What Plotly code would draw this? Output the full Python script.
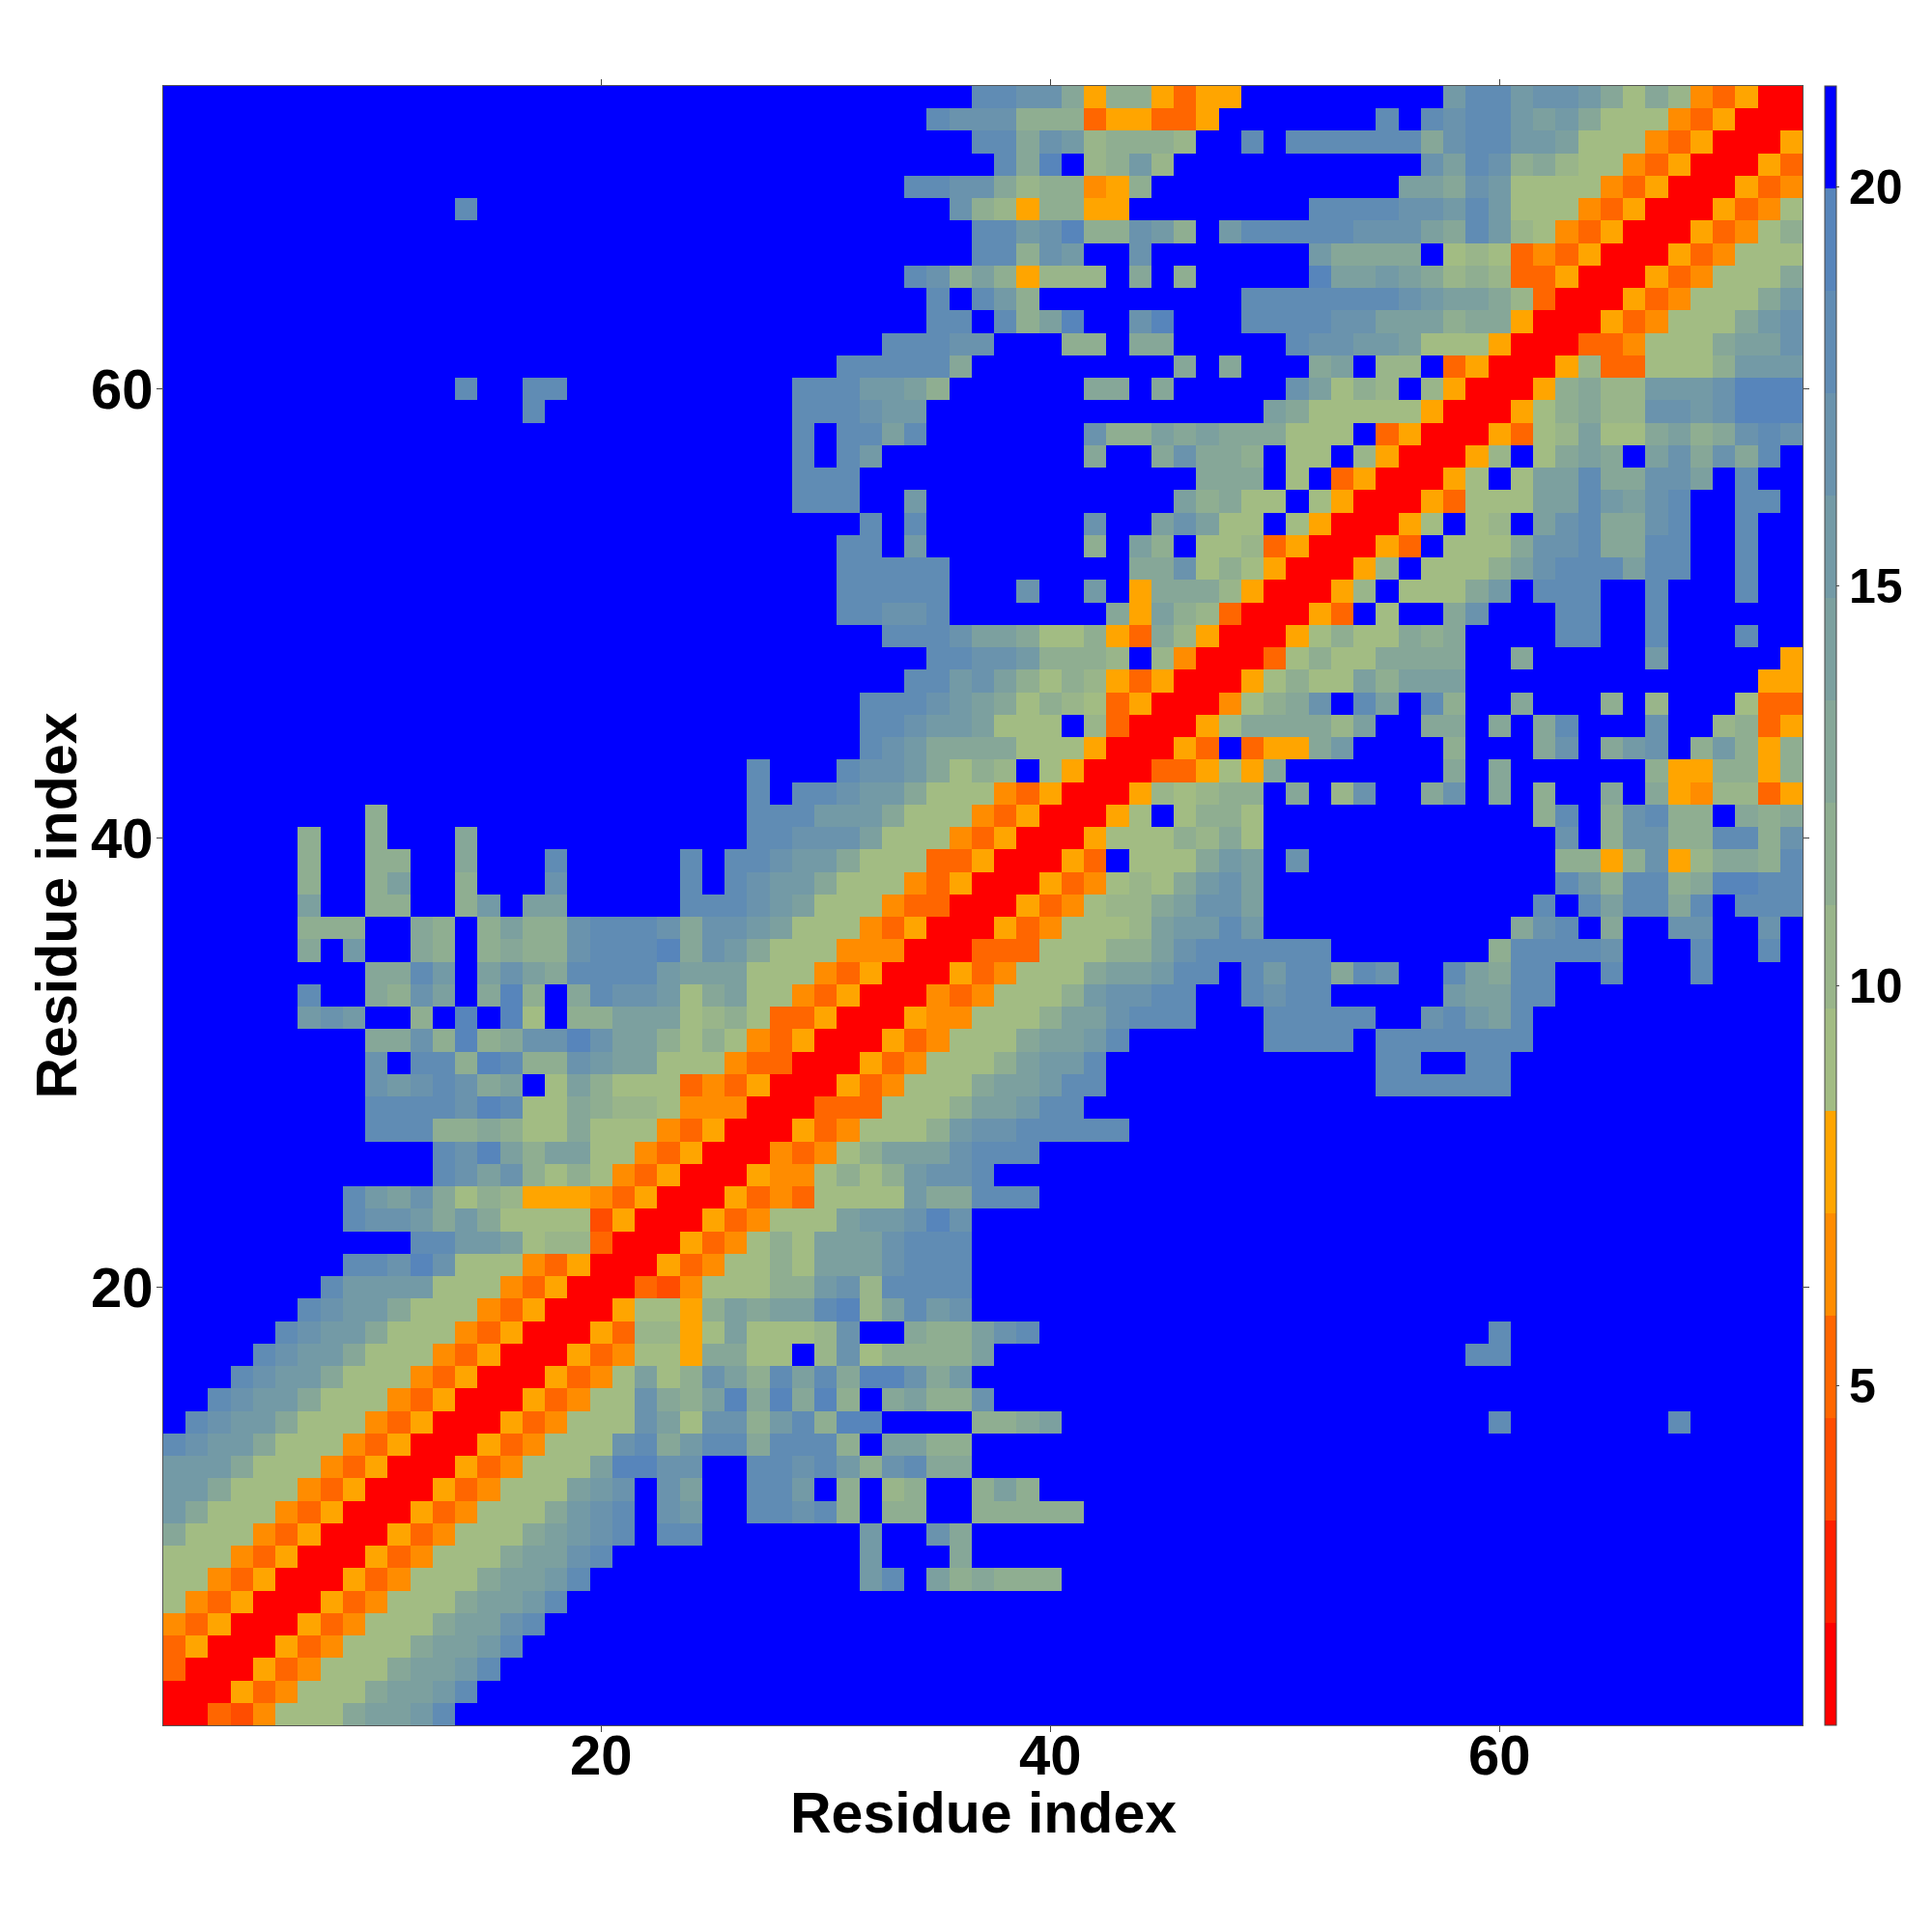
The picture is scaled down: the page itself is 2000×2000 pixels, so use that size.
import plotly.graph_objects as go

# Residue-residue distance levels, rows listed from residue 73 (top) to residue 1 (bottom).
# One character per cell; see LEVEL_CODES. '.' is the top (beyond 20) band.
LEFT_COLS = [  # residues 1-24
"........................","........................","........................","........................","........................",
".............n..........",
"........................","........................","........................","........................","........................","........................","........................",
".............n..nn......",
"................n.......",
"........................","........................","........................","........................","........................","........................","........................","........................","........................","........................","........................","........................","........................","........................","........................","........................","........................",
".........i..............",
"......i..i...j..........",
"......i..ii..j...n.....n",
"......i..ik..i...m.....n",
"......k..ii..il.kk.....n",
"......iii..ji.ikiimnnnmj",
"......j.l..ji.ijiimnnnoj",
".........jjnl.kmkjnnnnlk",
"......n..jimk.joi.jnmmlg",
"......lml..i.o.og.iikkkg",
".........jjmioijmmomkkig",
".........m.nnioniimlkkgg",
".........mlmnmjk.gkigggd",
".........nnnnmonggjihhge",
".........nnniijiggjggged",
"............nmokikkggedf",
"............nmkmigigedfa",
"........nlkmjgihfffedfaa",
"........nmmljljggggcfaaa",
"...........nnllkghhdaaaf",
"........nnmomgggedfaaafd",
".......nllllgggedfaaadce",
"......nmlljgggedfaaafggf",
".....nmlljgggedfaaafdhhf",
"....nmlljgggedfaaafdeggf",
"...nmlljgggedfaaafdegkgi",
"..nmlljgggedfaaafdeggmji",
".nmlljgggedfaaafdegggmkg",
"nmlljgggedfaaafdegggmnjl",
"llljgggedfaaafdegggkoomm",
"lljgggedfaaafdegggklm.mk",
"ljgggedfaaafdegggjlmn.ml",
"jgggedfaaafdegggjklmn.nn",
"gggedfaaafdegggjkkmn....",
"ggedfaaafdegggjkkln.....",
"gedfaaafdegggjkkln......",
"edfaaafdegggjkkmn.......",
"dfaaafdegggjkkln........",
"daaafdegggjkkln.........",
"aaafdegggjkkln..........",
"aadcegggjkkln...........",
]

MIDDLE_COLS = [  # residues 25-49
"............nnmmjfiifdff.",
"..........nmmmiiidffddf..",
"............nnjmlhiiih..n",
".............njo.hilh....",
".........nnmmjhiiefi.....",
"...........mihfiiff......",
"............nnlmoiimli.ln",
"............nniml..m.....",
".........nmikifhhh.j.i...",
"..........n.nli.........n",
"..........nn.niko..mo...n",
"........nnnmm...ii.jj....",
"......nnnnnj.........j.j.",
"....nnnllki......jj.j....",
"....nnnmll...............",
"....n.nnkn.......miikjkjj",
"....n.nl.........j..jmjji",
"....nnn...............jjj",
"....nnn..l...........kijg",
".......n.n.......m..kmkgg",
"......nn.l.......i.ki.ggh",
"......nnnnn........jjmgig",
"......nnnnn...m..l.fjjjhf",
"......nnmmn.......jfkihda",
"........nnnmkkjggifdjhfaa",
"..........nnmmliiih.heaaa",
".........nnlmkigihfdfaaaf",
".......nnnmlkjgihgdfaaaeg",
".......nnmllkggg.hdaaafgj",
".......nmljjjjgggfaaafd.d",
"..n...nmmljgih.gfaaaddfgf",
"..n.nnmlljgggedfaaafhghii",
"..nnnllljgggedfaaafg.giig",
"..nnmmmkgggedfaaafgggihjg",
".nnmlljgggddfaaafd.gggjlk",
".nmlljgggedfaaafdeghgjlmk",
"nnmlkgggeddaaafdeghhjkmmk",
"mmlkgggedfaaafdeggghkllnl",
"mljgggeeeaaadddgggiikmnnn",
"kkgggedfaaafdegggjkklnn.n",
"jkggedfaaaedegggilmmnn..n",
"higddfaaafeegggikkmnnn...",
"igedfaaafdegggjkkln......",
"geddaaafdegggiklln.......",
"edfaaafdegggjkklnn.......",
"eeaaadddgggikklnn........",
"faaafdegggilmmnnnnn......",
"aaaedegikkkmnnn..........",
"aafeegigilmmn............",
"afdedggggljjnnn..........",
"fdegggkllmom.............",
"degigkkkmnnn.............",
"eggigkkkmnnn.............",
"gggiilmhnnnn.............",
"ikjkknohknlm.............",
"gkggghm..jiikmn..........",
"jjgg.hmgiiiik............",
"mkinknjoomjl.............",
"kojojoi.jkiim............",
"mmilnioo....iijk.........",
"nnjnnni.kkii.............",
"..nnmnlimnjj.............",
"..nnl.i.hi..iki..........",
"..nnmni.ii..iiiii........",
".......l..mj.............",
".......l...j.............",
".......ln.kijiii.........",
".........................",".........................",".........................",".........................",".........................",".........................",
]

RIGHT_COLS = [  # residues 50-73
"........lnnlmmljgjhedfaa",
".....n.nmnnlkljgggedfaaa",
".nnnnnnjmnnllkgggedfaaaf",
".......mknmijhggedfaaafd",
"......kkjmlggggedfaaafde",
"..nnnnmmlnlgggedfaaafdeg",
"nnnnmmmkjnlhgedfaaafdegi",
"..ljjjj.ghgdedfaaafdeggg",
"..okklkjhihddfaaafdegggj",
"nnnnnnmlkkjhdaaafdegggjl",
"nnnmmkkkijjfaaafdegggjlm",
".nmmllkgggfaaaddegggjkkm",
"..jk.hh.dfaaafhddgggilll",
".mkgih.hfaaafijhhlllmooo",
"kjgggggfaaafgijhhmmlmooo",
"jggg.dfaaafdghkggjkijmnm",
".gg.hfaaafh.gjkj.kmjmjn.",
".g.dfaaafg.gkknjjmmk.n..",
"g.gfaaafdgggkknlkmn..nn.",
".gfaaafg.gh.kmnjjmn..n..",
"dfaaafd.gggjmmnjjnn..n..",
"faaafh.gggikmnnnknn..n..",
"aaafh.gggjl.nnn..n...n..",
"aafd.g..jm...nn..n......",
"afgiggjij....nn..n...n..",
"dgiggjjjj..j.....l.....f",
"giggkikkk.............ff",
"ijm.nk.ni..j...i.h...gdd",
"jjjhk..jj.j.jn...m..hidf",
"ffjl....i...jm.jlm.ilifi",
"j.......j.j......iffiifi",
".j.hm..jm.j.i..j.jfehhdf",
"............in.imnii.jij",
".............m.immiinnim",
".m...........iifimfhjjin",
".............nlinnijoonn",
"............n.nknnjn.nnn",
"...........jmn.j..mm..m.",
"nnn.......innnnm...n..n.",
"lnnjnm..nkjnn..n...n....",
"mnn.....lkknn...........",
"nnnnn..mnlkn............",
"nnnn.nnnnnnn............",
".....nn..nn.............",
".....nnnnnn.............",
"........................","........................","........................","........................","........................","........................","........................","........................","........................","........................",
"..........n.............",
".........nn.............",
"........................","........................",
"..........n.......n.....",
"........................","........................","........................","........................","........................","........................","........................","........................","........................","........................","........................","........................","........................",
]

LEVEL_CODES = "abcdefghijklmno."
LEVEL_COLOURS = ["#ff0000", "#ff2000", "#ff4d00", "#ff6600", "#ff8c00", "#ffa500",
                 "#a2bc83", "#99b58a", "#8fae91", "#86a798", "#7ca09f", "#739aa6",
                 "#6a93ad", "#608cb4", "#5785bb", "#0000ff"]
Z_MIN, Z_MAX = 0.75, 21.26
AXIS_TICKS = [20, 40, 60]
BAR_TICKS = [5, 10, 15, 20]
AXIS_TITLE = "Residue index"

n_levels = len(LEVEL_CODES)
step = (Z_MAX - Z_MIN) / n_levels
rows = [a + b + c for a, b, c in zip(LEFT_COLS, MIDDLE_COLS, RIGHT_COLS)][::-1]
z = [[Z_MIN + (LEVEL_CODES.index(ch) + 0.5) * step for ch in row] for row in rows]

colorscale = []
for i, col in enumerate(LEVEL_COLOURS):
    colorscale.append([i / n_levels, col])
    colorscale.append([(i + 1) / n_levels, col])

FONT = "Liberation Sans"
residues = list(range(1, 74))

fig = go.Figure(go.Heatmap(
    z=z, x=residues, y=residues, zmin=Z_MIN, zmax=Z_MAX, colorscale=colorscale,
    colorbar=dict(
        x=1.0133, xanchor="left", xpad=0, y=0.5, yanchor="middle", len=1, lenmode="fraction", ypad=0,
        thickness=12, thicknessmode="pixels",
        outlinecolor="#444444", outlinewidth=1,
        tickmode="array", tickvals=BAR_TICKS, ticks="outside", ticklen=3, tickwidth=1, tickcolor="#444444",
        tickfont=dict(family=FONT, size=50, color="black", weight="bold"),
    ),
))

axis_common = dict(
    range=[0.5, 73.5], tickmode="array", tickvals=AXIS_TICKS,
    ticks="outside", ticklen=6, tickwidth=1, tickcolor="#444444",
    showline=True, linecolor="#555555", linewidth=1, mirror="ticks",
    showgrid=False, zeroline=False,
    tickfont=dict(family=FONT, size=58, color="black", weight="bold"),
)
title_font = dict(family=FONT, size=59, color="black", weight="bold")
fig.update_layout(
    width=2000, height=2000, autosize=False,
    margin=dict(l=161, r=141.5, t=81, b=221.5, autoexpand=False),
    paper_bgcolor="white", plot_bgcolor="white",
    xaxis=dict(ticklabelstandoff=-26, **axis_common),
    yaxis=dict(ticklabelstandoff=-8, **axis_common),
    annotations=[
        dict(text=AXIS_TITLE, xref="paper", yref="paper", x=0.5, y=0, xanchor="center", yanchor="middle",
             yshift=-91, showarrow=False, font=title_font),
        dict(text=AXIS_TITLE, xref="paper", yref="paper", x=0, y=0.5, xanchor="center", yanchor="middle",
             xshift=-111, textangle=-90, showarrow=False, font=title_font),
    ],
)
fig.write_html("out.html")
